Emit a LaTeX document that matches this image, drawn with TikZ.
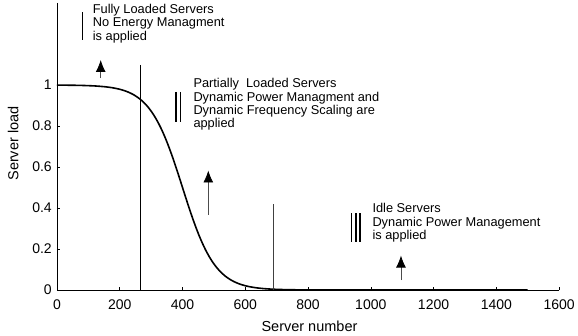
\documentclass[tikz,border=0pt]{standalone}
\usepackage{fontspec}
\setmainfont{Liberation Sans}
\usetikzlibrary{arrows.meta}

\tikzset{
	note/.style={anchor=north west,align=left,inner sep=0pt,font=\fontsize{12.8}{13.3}\selectfont},
	ticklab/.style={inner sep=0pt,font=\fontsize{14}{16}\selectfont},
	axlab/.style={inner sep=0pt,font=\fontsize{14.5}{16}\selectfont},
	up/.style={draw=black!70,line width=0.8pt,-{Latex[black,length=12pt,width=10pt]}},
	numeral/.style={line width=1.6pt},
	divider/.style={line width=0.7pt}
}

\begin{document}
\begin{tikzpicture}[x=0.3138pt,y=205pt]
	\useasboundingbox (-181.6,-0.2195) rectangle (1660.3,1.4146);
	% axes
	\draw[line width=0.8pt] (0,1.4) -- (0,0) -- (1600,0);
	\foreach \s in {0,200,...,1600}
		\draw[line width=0.6pt] (\s,0) -- (\s,0.0146);
	\foreach \s in {0,200,...,1600}
		\node[ticklab,anchor=base] (xl\s) at (\s,-0.0927) {\s};
	\foreach \l in {0,0.2,0.4,0.6,0.8}
		\draw[line width=0.6pt] (0,\l) -- (9.6,\l);
	\foreach \l/\n in {0/0,0.2/1,0.4/2,0.6/3,0.8/4,1/5}
		\node[ticklab,anchor=east] (yl\n) at (-16,\l) {\l};
	\node[axlab,anchor=base] (xlab) at (804.6,-0.2) {Server number};
	\node[axlab,anchor=base,rotate=90] (ylab) at (-123.3,0.7146) {Server load};
	% load curve
	\draw[line width=1.6pt,smooth] plot[domain=0:1500,samples=200]
		(\x,{1/(1+exp(min((\x-400)/52,9)))});
	% region borders
	\coordinate (b1top) at (267,1.0976);
	\coordinate (b1bot) at (267,0);
	\coordinate (b2top) at (689.3,0.4195);
	\coordinate (b2bot) at (689.3,0);
	\draw[divider] (b1top) -- (b1bot);
	\draw[divider,black!75] (b2top) -- (b2bot);
	% regions
	\node[note] (full) at (113.7,1.3951) {Fully Loaded Servers\\No Energy Managment\\is applied};
	\node[note] (part) at (434.4,1.0327) {Partially\ \ Loaded Servers\\Dynamic Power Managment and\\Dynamic Frequency Scaling are\\applied};
	\node[note] (idle) at (1004.8,0.4229) {Idle Servers\\Dynamic Power Management\\is applied};
	\draw[numeral] (81.9,1.356) -- (81.9,1.2195);
	\draw[numeral] (379.2,0.9659) -- (379.2,0.8195);
	\draw[numeral] (394.2,0.9659) -- (394.2,0.8195);
	\foreach \s in {939.1,951.9,965.6}
		\draw[numeral] (\s,0.3756) -- (\s,0.2356);
	% pointers
	\coordinate (a1tail) at (139.3,1.034);
	\coordinate (a1tip) at (139.3,1.122);
	\coordinate (a2tail) at (482.2,0.366);
	\coordinate (a2tip) at (482.2,0.583);
	\coordinate (a3tail) at (1096.2,0.0488);
	\coordinate (a3tip) at (1096.2,0.168);
	\draw[up] (a1tail) -- (a1tip);
	\draw[up] (a2tail) -- (a2tip);
	\draw[up] (a3tail) -- (a3tip);
\end{tikzpicture}
\end{document}
